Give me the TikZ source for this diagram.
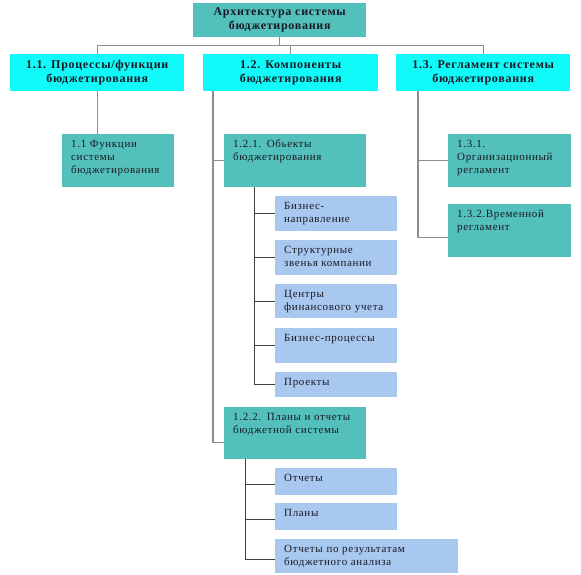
\documentclass[tikz,border=0pt]{standalone}
\usepackage{fontspec}
\setmainfont{Liberation Serif}[LetterSpace=6]
\usetikzlibrary{positioning}
\definecolor{tealfill}{RGB}{84,192,188}
\definecolor{headcyan}{RGB}{16,250,250}
\definecolor{leafblue}{RGB}{168,200,240}
\definecolor{inkdark}{RGB}{25,25,35}

\tikzset{
  conn/.style={draw=gray!90, line width=1.1pt},
  twig/.style={draw=black!75, line width=1pt},
  headbox/.style={anchor=north west, fill=headcyan, inner sep=0pt, align=center,
    text=inkdark, font=\fontsize{12}{14}\selectfont\bfseries},
  leaf/.style={anchor=north west, fill=leafblue, inner xsep=9pt, inner ysep=4pt,
    text height=9pt, align=left, text=inkdark, font=\fontsize{11}{13}\selectfont},
  tealleaf/.style={leaf, fill=tealfill}
}

\begin{document}
\begin{tikzpicture}[x=1pt,y=-1pt]
\useasboundingbox (0,0) rectangle (581,574);

% top level
\node[headbox, fill=tealfill, minimum width=173pt, minimum height=34pt] (top) at (193,3)
  {Архитектура системы\\бюджетирования};

% sections
\node[headbox, minimum width=174pt, minimum height=37pt] (l1) at (10,54)
  {1.1. Процессы/функции\\бюджетирования};
\node[headbox, minimum width=175pt, minimum height=37pt] (l2) at (203,54)
  {1.2. Компоненты\\бюджетирования};
\node[headbox, minimum width=174pt, minimum height=37pt] (l3) at (396,54)
  {1.3. Регламент системы\\бюджетирования};

\draw[conn] (top.south) -- ++(0,8) coordinate (hub);
\draw[conn] (l1.north) |- (hub) -| (l3.north);
\draw[conn] (hub) -| (l2.north);

% 1.1
\node[tealleaf, text width=94pt, text depth=36pt] (f11) at (62,134)
  {1.1 Функции\\системы\\бюджетирования};
\draw[conn] (l1.south) -- (l1.south |- f11.north);

% 1.2
\node[tealleaf, text width=124pt, text depth=36pt] (b121) at (224,134)
  {1.2.1. Обьекты\\бюджетирования};
\node[leaf, text width=104pt, text depth=18pt] (obj1) at (275,196) {Бизнес-\\направление};
\node[leaf, text width=104pt, text depth=18pt] (obj2) at (275,240) {Структурные\\звенья компании};
\node[leaf, text width=104pt, text depth=17pt] (obj3) at (275,284) {Центры\\финансового учета};
\node[leaf, text width=104pt, text depth=18pt] (obj4) at (275,328) {Бизнес-процессы};
\node[leaf, text width=104pt, text depth=8pt] (obj5) at (275,372) {Проекты};

\node[tealleaf, text width=124pt, text depth=35pt] (b122) at (224,407)
  {1.2.2. Планы и отчеты\\бюджетной системы};
\node[leaf, text width=104pt, text depth=10pt] (rep1) at (275,468) {Отчеты};
\node[leaf, text width=104pt, text depth=10pt] (rep2) at (275,503) {Планы};
\node[leaf, text width=165pt, text depth=17pt] (rep3) at (275,539)
  {Отчеты по результатам\\бюджетного анализа};

\draw[conn] ([xshift=10pt]l2.south west) |- (b121.west);
\draw[conn] ([xshift=10pt]l2.south west) |- ([yshift=-9pt]b122.west);
\foreach \n in {obj1,obj2,obj3,obj4,obj5}
  \draw[twig] ([xshift=30pt]b121.south west) |- (\n.west);
\foreach \n in {rep1,rep2,rep3}
  \draw[twig] ([xshift=21pt]b122.south west) |- ([yshift=-3pt]\n.west);

% 1.3
\node[tealleaf, text width=105pt, text depth=36pt] (b131) at (448,134)
  {1.3.1.\\Организационный\\регламент};
\node[tealleaf, text width=105pt, text depth=36pt] (b132) at (448,204)
  {1.3.2.Временной\\регламент};
\draw[conn] ([xshift=22pt]l3.south west) |- (b131.west);
\draw[conn] ([xshift=22pt]l3.south west) |- ([yshift=-7pt]b132.west);
\end{tikzpicture}
\end{document}
